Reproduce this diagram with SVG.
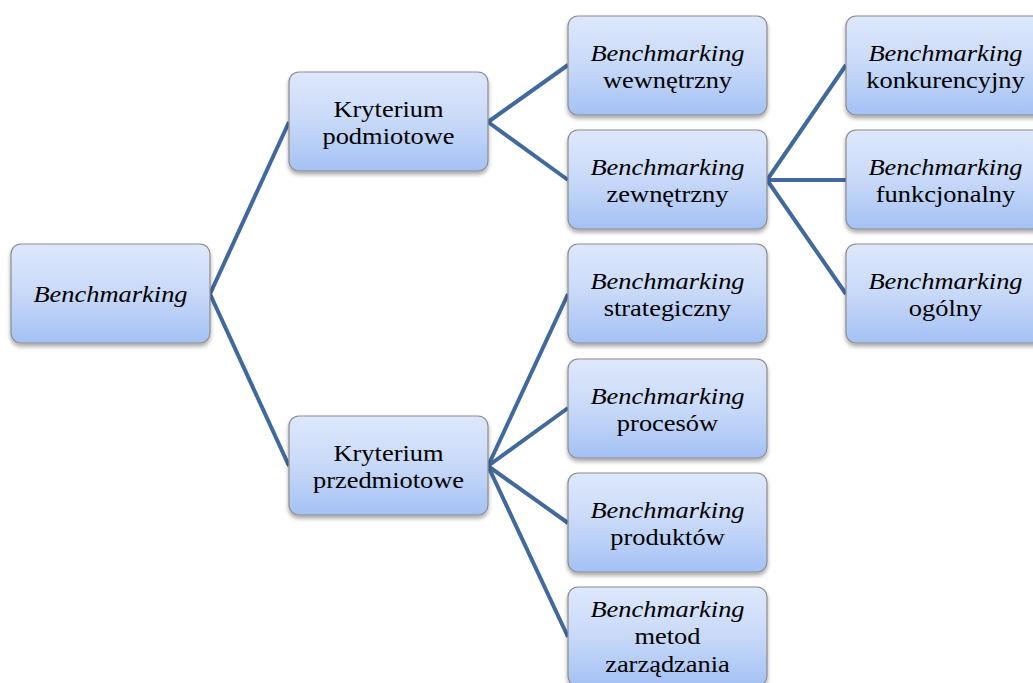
<svg xmlns="http://www.w3.org/2000/svg" width="1033" height="683" viewBox="0 0 1033 683" font-family="Liberation Serif">
<style>
.box{fill:url(#g);stroke:#8c8c8c;stroke-width:1.2;filter:url(#sh)}
.t{font-size:23px;fill:#000;text-anchor:middle}
.i{font-style:italic}
.c{stroke:#41699e;stroke-width:4;fill:none;stroke-linecap:butt}
</style>
<defs>
<linearGradient id="g" x1="0" y1="0" x2="0" y2="1">
<stop offset="0" stop-color="#dee8fb"/>
<stop offset="0.5" stop-color="#c8d9f8"/>
<stop offset="1" stop-color="#a4c1f4"/>
</linearGradient>
<filter id="sh" x="-10%" y="-10%" width="120%" height="130%">
<feGaussianBlur in="SourceAlpha" stdDeviation="2"/>
<feOffset dx="0" dy="3" result="b"/>
<feComponentTransfer><feFuncA type="linear" slope="0.35"/></feComponentTransfer>
<feMerge><feMergeNode/><feMergeNode in="SourceGraphic"/></feMerge>
</filter>
</defs>
<rect width="1033" height="683" fill="#fff"/>
<g id="connectors">
<path class="c" d="M210,294 L289,122 M210,294 L289,466"/>
<path class="c" d="M488,122 L568,65 M488,122 L568,180"/>
<path class="c" d="M767,180 L846,65 M767,180 L846,180 M767,180 L846,294"/>
<path class="c" d="M488,466 L568,294 M488,466 L568,408 M488,466 L568,523 M488,466 L568,637"/>
</g>
<g id="n-root"><rect class="box" x="11" y="244" width="199" height="99" rx="10"/><text class="t i" font-family="Liberation Serif" transform="matrix(1.15 0 0 1 110.5 0)" y="302.5">Benchmarking</text></g>
<g id="n-podm"><rect class="box" x="289" y="72" width="199" height="99" rx="10"/><text class="t" font-family="Liberation Serif" transform="matrix(1.15 0 0 1 388.5 0)" y="117.5">Kryterium</text><text class="t" font-family="Liberation Serif" transform="matrix(1.15 0 0 1 388.5 0)" y="144.5">podmiotowe</text></g>
<g id="n-przed"><rect class="box" x="289" y="416" width="199" height="99" rx="10"/><text class="t" font-family="Liberation Serif" transform="matrix(1.15 0 0 1 388.5 0)" y="461.5">Kryterium</text><text class="t" font-family="Liberation Serif" transform="matrix(1.15 0 0 1 388.5 0)" y="488.5">przedmiotowe</text></g>
<g id="n-wew"><rect class="box" x="568" y="16" width="199" height="99" rx="10"/><text class="t i" font-family="Liberation Serif" transform="matrix(1.15 0 0 1 667.5 0)" y="61">Benchmarking</text><text class="t" font-family="Liberation Serif" transform="matrix(1.15 0 0 1 667.5 0)" y="88">wewnętrzny</text></g>
<g id="n-zew"><rect class="box" x="568" y="130" width="199" height="99" rx="10"/><text class="t i" font-family="Liberation Serif" transform="matrix(1.15 0 0 1 667.5 0)" y="175.5">Benchmarking</text><text class="t" font-family="Liberation Serif" transform="matrix(1.15 0 0 1 667.5 0)" y="202.5">zewnętrzny</text></g>
<g id="n-strat"><rect class="box" x="568" y="244" width="199" height="99" rx="10"/><text class="t i" font-family="Liberation Serif" transform="matrix(1.15 0 0 1 667.5 0)" y="289.5">Benchmarking</text><text class="t" font-family="Liberation Serif" transform="matrix(1.15 0 0 1 667.5 0)" y="316.5">strategiczny</text></g>
<g id="n-proc"><rect class="box" x="568" y="359" width="199" height="99" rx="10"/><text class="t i" font-family="Liberation Serif" transform="matrix(1.15 0 0 1 667.5 0)" y="404">Benchmarking</text><text class="t" font-family="Liberation Serif" transform="matrix(1.15 0 0 1 667.5 0)" y="431">procesów</text></g>
<g id="n-prod"><rect class="box" x="568" y="473" width="199" height="99" rx="10"/><text class="t i" font-family="Liberation Serif" transform="matrix(1.15 0 0 1 667.5 0)" y="518.5">Benchmarking</text><text class="t" font-family="Liberation Serif" transform="matrix(1.15 0 0 1 667.5 0)" y="545.5">produktów</text></g>
<g id="n-metod"><rect class="box" x="568" y="587" width="199" height="99" rx="10"/><text class="t i" font-family="Liberation Serif" transform="matrix(1.15 0 0 1 667.5 0)" y="617">Benchmarking</text><text class="t" font-family="Liberation Serif" transform="matrix(1.15 0 0 1 667.5 0)" y="644.5">metod</text><text class="t" font-family="Liberation Serif" transform="matrix(1.15 0 0 1 667.5 0)" y="672">zarządzania</text></g>
<g id="n-konk"><rect class="box" x="846" y="16" width="199" height="99" rx="10"/><text class="t i" font-family="Liberation Serif" transform="matrix(1.15 0 0 1 945.5 0)" y="61">Benchmarking</text><text class="t" font-family="Liberation Serif" transform="matrix(1.15 0 0 1 945.5 0)" y="88">konkurencyjny</text></g>
<g id="n-funk"><rect class="box" x="846" y="130" width="199" height="99" rx="10"/><text class="t i" font-family="Liberation Serif" transform="matrix(1.15 0 0 1 945.5 0)" y="175.5">Benchmarking</text><text class="t" font-family="Liberation Serif" transform="matrix(1.15 0 0 1 945.5 0)" y="202.5">funkcjonalny</text></g>
<g id="n-ogol"><rect class="box" x="846" y="244" width="199" height="99" rx="10"/><text class="t i" font-family="Liberation Serif" transform="matrix(1.15 0 0 1 945.5 0)" y="289.5">Benchmarking</text><text class="t" font-family="Liberation Serif" transform="matrix(1.15 0 0 1 945.5 0)" y="316.5">ogólny</text></g>
</svg>
